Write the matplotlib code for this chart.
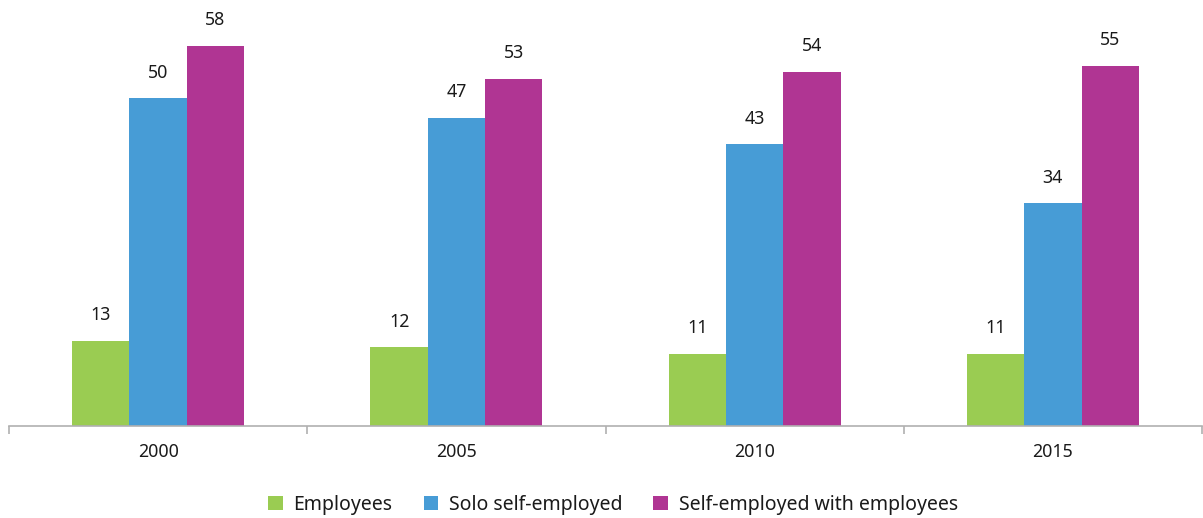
import matplotlib
matplotlib.use("Agg")
import matplotlib.pyplot as plt
import numpy as np

years = ["2000", "2005", "2010", "2015"]
employees = [13, 12, 11, 11]
solo = [50, 47, 43, 34]
with_emp = [58, 53, 54, 55]
series_names = ["Employees", "Solo self-employed", "Self-employed with employees"]
colors = ["#9ACC52", "#479CD6", "#B03593"]

plt.rcParams["font.family"] = ["Noto Sans", "DejaVu Sans"]

fig = plt.figure(figsize=(12.03, 5.18), dpi=100)
ax = fig.add_axes([9 / 1203, 92 / 518, 1193 / 1203, 426 / 518])

x = np.arange(len(years))
w = 0.192
for k, (vals, name, c) in enumerate(zip([employees, solo, with_emp], series_names, colors)):
    bars = ax.bar(x + (k - 1) * w, vals, width=w, color=c, label=name)
    for b, v in zip(bars, vals):
        ax.annotate(f"{v}", (b.get_x() + b.get_width() / 2, v), xytext=(0, 12),
                    textcoords="offset points", ha="center", va="bottom",
                    fontsize=12.8, color="#1a1a1a")

ax.set_xlim(-0.5, len(years) - 0.5)
ax.set_ylim(0, 65)
for s in ["top", "right", "left"]:
    ax.spines[s].set_visible(False)
ax.spines["bottom"].set_color("#b0b0b0")
ax.spines["bottom"].set_linewidth(1.2)
ax.set_yticks([])
ax.set_xticks(x)
ax.set_xticklabels(years, fontsize=12.8, color="#1a1a1a")
ax.tick_params(axis="x", length=0, pad=12)
ax.set_xticks(np.arange(len(years) + 1) - 0.5, minor=True)
ax.tick_params(axis="x", which="minor", length=6, color="#b0b0b0", width=1.2)

fig.legend(loc="center", bbox_to_anchor=(0.5096, 0.025), ncol=3, frameon=False,
           fontsize=14, handlelength=0.75, handleheight=0.75, handletextpad=0.55,
           columnspacing=1.6, labelcolor="#1a1a1a")

fig.savefig("out.png", dpi=100)
